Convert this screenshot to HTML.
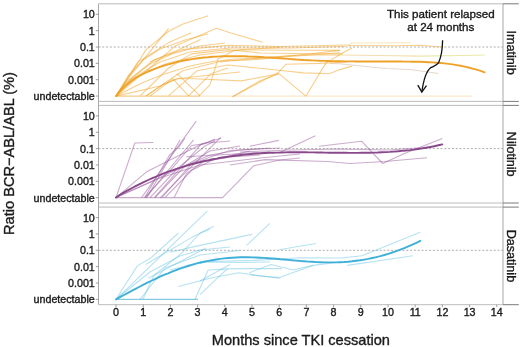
<!DOCTYPE html><html><head><meta charset="utf-8"><style>html,body{margin:0;padding:0;background:#fff;}svg{display:block;filter:blur(0.4px);}text{font-family:"Liberation Sans",sans-serif;fill:#1a1a1a;stroke:#1a1a1a;stroke-width:0.36px;}</style></head><body>
<svg width="520" height="347" viewBox="0 0 520 347">
<path d="M98.5,3.8 V304.7 M503.0,3.8 V304.7" fill="none" stroke="#a8a8a8" stroke-width="1"/>
<path d="M98.5,3.8 H503.0 M98.5,101.4 H503.0" fill="none" stroke="#b4b4b4" stroke-width="0.9"/>
<path d="M503.0,3.8 H518.8 M503.0,101.4 H518.8" fill="none" stroke="#7a7a7a" stroke-width="1"/>
<line x1="98.5" x2="503.0" y1="47.00" y2="47.00" stroke="#999" stroke-width="0.8" stroke-dasharray="2,1.8"/>
<line x1="95.8" x2="98.5" y1="14.30" y2="14.30" stroke="#888" stroke-width="0.8"/>
<text x="94.8" y="18.30" font-size="10.7" text-anchor="end">10</text>
<line x1="95.8" x2="98.5" y1="30.65" y2="30.65" stroke="#888" stroke-width="0.8"/>
<text x="94.8" y="34.65" font-size="10.7" text-anchor="end">1</text>
<line x1="95.8" x2="98.5" y1="47.00" y2="47.00" stroke="#888" stroke-width="0.8"/>
<text x="94.8" y="51.00" font-size="10.7" text-anchor="end">0.1</text>
<line x1="95.8" x2="98.5" y1="63.35" y2="63.35" stroke="#888" stroke-width="0.8"/>
<text x="94.8" y="67.35" font-size="10.7" text-anchor="end">0.01</text>
<line x1="95.8" x2="98.5" y1="79.70" y2="79.70" stroke="#888" stroke-width="0.8"/>
<text x="94.8" y="83.70" font-size="10.7" text-anchor="end">0.001</text>
<line x1="95.8" x2="98.5" y1="96.05" y2="96.05" stroke="#888" stroke-width="0.8"/>
<text x="94.8" y="100.05" font-size="10.7" text-anchor="end">undetectable</text>
<path d="M98.5,105.4 H503.0 M98.5,203.0 H503.0" fill="none" stroke="#b4b4b4" stroke-width="0.9"/>
<path d="M503.0,105.4 H518.8 M503.0,203.0 H518.8" fill="none" stroke="#7a7a7a" stroke-width="1"/>
<line x1="98.5" x2="503.0" y1="148.60" y2="148.60" stroke="#999" stroke-width="0.8" stroke-dasharray="2,1.8"/>
<line x1="95.8" x2="98.5" y1="115.90" y2="115.90" stroke="#888" stroke-width="0.8"/>
<text x="94.8" y="119.90" font-size="10.7" text-anchor="end">10</text>
<line x1="95.8" x2="98.5" y1="132.25" y2="132.25" stroke="#888" stroke-width="0.8"/>
<text x="94.8" y="136.25" font-size="10.7" text-anchor="end">1</text>
<line x1="95.8" x2="98.5" y1="148.60" y2="148.60" stroke="#888" stroke-width="0.8"/>
<text x="94.8" y="152.60" font-size="10.7" text-anchor="end">0.1</text>
<line x1="95.8" x2="98.5" y1="164.95" y2="164.95" stroke="#888" stroke-width="0.8"/>
<text x="94.8" y="168.95" font-size="10.7" text-anchor="end">0.01</text>
<line x1="95.8" x2="98.5" y1="181.30" y2="181.30" stroke="#888" stroke-width="0.8"/>
<text x="94.8" y="185.30" font-size="10.7" text-anchor="end">0.001</text>
<line x1="95.8" x2="98.5" y1="197.65" y2="197.65" stroke="#888" stroke-width="0.8"/>
<text x="94.8" y="201.65" font-size="10.7" text-anchor="end">undetectable</text>
<path d="M98.5,207.1 H503.0 M98.5,304.7 H503.0" fill="none" stroke="#b4b4b4" stroke-width="0.9"/>
<path d="M503.0,207.1 H518.8 M503.0,304.7 H518.8" fill="none" stroke="#7a7a7a" stroke-width="1"/>
<line x1="98.5" x2="503.0" y1="250.30" y2="250.30" stroke="#999" stroke-width="0.8" stroke-dasharray="2,1.8"/>
<line x1="95.8" x2="98.5" y1="217.60" y2="217.60" stroke="#888" stroke-width="0.8"/>
<text x="94.8" y="221.60" font-size="10.7" text-anchor="end">10</text>
<line x1="95.8" x2="98.5" y1="233.95" y2="233.95" stroke="#888" stroke-width="0.8"/>
<text x="94.8" y="237.95" font-size="10.7" text-anchor="end">1</text>
<line x1="95.8" x2="98.5" y1="250.30" y2="250.30" stroke="#888" stroke-width="0.8"/>
<text x="94.8" y="254.30" font-size="10.7" text-anchor="end">0.1</text>
<line x1="95.8" x2="98.5" y1="266.65" y2="266.65" stroke="#888" stroke-width="0.8"/>
<text x="94.8" y="270.65" font-size="10.7" text-anchor="end">0.01</text>
<line x1="95.8" x2="98.5" y1="283.00" y2="283.00" stroke="#888" stroke-width="0.8"/>
<text x="94.8" y="287.00" font-size="10.7" text-anchor="end">0.001</text>
<line x1="95.8" x2="98.5" y1="299.35" y2="299.35" stroke="#888" stroke-width="0.8"/>
<text x="94.8" y="303.35" font-size="10.7" text-anchor="end">undetectable</text>
<g fill="none" stroke="#f0a830" stroke-width="1.1" stroke-opacity="0.55" stroke-linejoin="round">
<polyline points="116.0,96.1 131.9,73.7 146.0,56.7 168.7,28.4"/>
<polyline points="116.0,96.1 134.7,68.0 146.0,49.6 168.7,31.3 183.0,24.0 208.2,15.7"/>
<polyline points="116.0,96.1 137.6,62.4 168.7,42.6 191.3,32.7"/>
<polyline points="150.0,62.0 178.0,50.0 200.6,39.6"/>
<polyline points="116.0,96.1 128.0,76.0 143.0,60.0 160.0,49.0 185.0,40.0 208.0,34.0"/>
<polyline points="116.0,96.1 133.0,77.0 150.0,64.0 172.0,54.0 200.0,46.0 225.0,43.0"/>
<polyline points="116.0,96.1 135.0,80.0 148.5,69.0 175.7,45.7 216.5,28.2 230.0,32.7 262.7,42.3"/>
<polyline points="116.0,96.1 126.3,82.1 154.5,59.5 182.8,49.6 228.0,45.4 280.0,46.5 348.0,45.0"/>
<polyline points="348.0,45.0 352.5,43.0 411.0,42.8" stroke="#f0d070" stroke-opacity="0.5"/>
<polyline points="348.0,45.5 396.0,45.8 420.0,45.3 441.5,47.0"/>
<polyline points="116.0,96.1 130.0,80.0 160.0,62.0 190.0,52.0 230.0,48.0 290.0,48.0 345.0,46.5"/>
<polyline points="116.0,96.1 135.0,78.0 165.0,64.0 200.0,55.0 240.0,50.0 300.0,50.2 340.0,50.4"/>
<polyline points="140.4,95.7 168.7,68.0 191.3,53.9 228.0,49.6 260.0,53.0 312.0,53.8 343.0,53.8"/>
<polyline points="146.1,95.7 182.8,70.8 228.0,59.5 260.0,58.0 300.0,55.0 340.0,55.0"/>
<polyline points="340.0,55.0 380.0,55.5 420.0,56.1" stroke="#e8c060" stroke-opacity="0.5"/>
<polyline points="420.0,56.1 463.0,55.5 484.6,55.0" stroke="#d8d870" stroke-opacity="0.6"/>
<polyline points="168.7,95.7 197.0,70.8 228.0,65.0 279.0,70.3 303.3,72.9 329.2,73.7 340.0,69.6 352.0,66.1"/>
<polyline points="330.0,63.5 340.0,63.8 370.8,67.0 386.0,68.5 410.0,69.5 438.5,73.5" stroke="#c8a890" stroke-opacity="0.45"/>
<polyline points="150.0,96.1 173.0,78.8 188.8,96.1"/>
<polyline points="177.0,73.7 199.8,95.7"/>
<polyline points="188.8,95.7 211.0,73.7 228.0,68.0"/>
<polyline points="198.9,96.1 210.0,84.6 218.0,59.0 235.0,50.0 280.0,47.5"/>
<polyline points="146.1,96.1 163.0,84.6 177.3,78.8 193.0,78.8 241.3,80.9 279.0,73.7 305.8,96.2 325.7,63.4 341.3,53.8 352.0,48.0"/>
<polyline points="232.6,96.7 260.0,80.7 279.0,73.7"/>
<polyline points="232.6,96.7 278.8,72.2 286.0,64.2 318.8,63.4 348.0,62.0"/>
<polyline points="116.0,96.1 160.0,86.0 177.3,78.8 210.0,75.0 240.0,72.0"/>
<polyline points="220.0,62.0 260.0,58.0 300.0,55.0 340.0,50.4"/>
<polyline points="116.0,96.1 141.8,83.1 163.0,74.5 190.0,66.0 215.0,61.0 250.0,60.0 290.0,56.5 340.0,52.7"/>
</g>
<polyline points="116.0,96.1 200.0,96.1" fill="none" stroke="#eea22a" stroke-width="1.3" stroke-opacity="0.55"/>
<polyline points="200.0,96.1 472.0,96.1" fill="none" stroke="#eea22a" stroke-width="1.3" stroke-opacity="0.25"/>
<polyline points="116.0,96.1 120.0,91.0 124.0,86.9 128.0,83.5 132.0,80.5 136.0,77.8 140.0,75.5 144.0,73.4 148.1,71.5 152.1,69.9 156.1,68.4 160.1,66.9 164.1,65.6 168.1,64.4 172.1,63.3 176.1,62.3 180.1,61.4 184.1,60.5 188.1,59.8 192.1,59.1 196.1,58.5 200.1,58.0 204.1,57.5 208.2,57.2 212.2,56.8 216.2,56.6 220.2,56.4 224.2,56.3 228.2,56.2 232.2,56.2 236.2,56.2 240.2,56.2 244.2,56.3 248.2,56.5 252.2,56.6 256.2,56.8 260.2,57.0 264.2,57.3 268.2,57.5 272.3,57.8 276.3,58.1 280.3,58.3 284.3,58.6 288.3,58.9 292.3,59.2 296.3,59.5 300.3,59.7 304.3,60.0 308.3,60.2 312.3,60.4 316.3,60.6 320.3,60.8 324.3,60.9 328.3,61.0 332.4,61.1 336.4,61.2 340.4,61.3 344.4,61.4 348.4,61.4 352.4,61.4 356.4,61.5 360.4,61.5 364.4,61.5 368.4,61.5 372.4,61.5 376.4,61.5 380.4,61.5 384.4,61.5 388.4,61.5 392.5,61.5 396.5,61.5 400.5,61.5 404.5,61.6 408.5,61.6 412.5,61.7 416.5,61.7 420.5,61.8 424.5,62.0 428.5,62.2 432.5,62.4 436.5,62.7 440.5,63.0 444.5,63.4 448.5,63.9 452.5,64.4 456.6,65.1 460.6,65.8 464.6,66.6 468.6,67.5 472.6,68.6 476.6,69.7 480.6,70.9 484.6,72.3" fill="none" stroke="#eea22a" stroke-width="1.9" stroke-linecap="round" stroke-linejoin="round"/>
<g fill="none" stroke="#9a5a9e" stroke-width="1.1" stroke-opacity="0.5" stroke-linejoin="round">
<polyline points="116.0,197.6 134.8,143.0 153.3,142.5"/>
<polyline points="141.6,197.6 196.2,121.1"/>
<polyline points="144.7,197.6 169.7,154.8 179.0,146.9 185.0,138.0"/>
<polyline points="160.3,197.6 221.0,137.1"/>
<polyline points="144.7,197.6 172.8,167.3 191.5,145.5 203.9,143.9 215.0,139.0"/>
<polyline points="154.5,197.6 201.0,144.4 220.7,138.3"/>
<polyline points="161.9,197.6 191.3,164.0 218.2,154.2 230.0,150.5 260.0,149.0 280.0,148.0"/>
<polyline points="174.1,197.6 186.4,173.8 203.5,161.6 230.0,157.0 260.0,155.0"/>
<polyline points="116.0,197.6 147.2,171.4 186.4,151.8 203.5,143.2 230.0,141.0"/>
<polyline points="186.4,156.7 230.0,154.2 270.0,152.0"/>
<polyline points="116.0,197.6 160.0,178.0 200.0,165.0 260.0,158.0 300.0,154.0"/>
<polyline points="222.6,197.6 253.8,165.7 280.0,160.0 300.0,158.0"/>
<polyline points="250.0,146.2 278.8,140.4"/>
<polyline points="280.8,152.0 315.4,135.8"/>
<polyline points="319.0,146.2 361.5,141.2 382.7,163.5 403.8,153.8 442.3,138.5"/>
<polyline points="230.0,165.0 265.4,159.6 327.0,161.5 350.0,163.5 384.6,161.5 427.0,157.7"/>
<polyline points="240.0,152.0 290.0,150.0 340.0,149.0 390.0,150.0 430.0,147.0"/>
<polyline points="147.0,197.6 180.0,140.0"/>
<polyline points="145.8,197.6 175.0,162.0 193.7,139.8"/>
<polyline points="150.0,197.6 178.0,168.0 205.0,146.0 215.0,141.0"/>
<polyline points="155.0,197.6 185.0,166.0 210.0,151.0 240.0,146.0"/>
<polyline points="165.0,197.6 192.0,170.0 215.0,159.0 250.0,151.0"/>
<polyline points="116.0,197.6 150.0,182.0 180.0,168.0 210.0,155.0 240.0,150.0 270.0,148.0"/>
</g>
<polyline points="116.0,197.6 222.6,197.6" fill="none" stroke="#88488a" stroke-width="1.3" stroke-opacity="0.45"/>
<polyline points="116.0,197.6 120.0,194.8 124.1,192.4 128.1,190.2 132.1,188.0 136.1,185.9 140.2,183.8 144.2,181.9 148.2,180.0 152.3,178.2 156.3,176.5 160.3,174.8 164.3,173.2 168.4,171.7 172.4,170.3 176.4,168.9 180.5,167.6 184.5,166.4 188.5,165.2 192.5,164.0 196.6,163.0 200.6,162.0 204.6,161.0 208.7,160.2 212.7,159.3 216.7,158.6 220.7,157.8 224.8,157.2 228.8,156.6 232.8,156.0 236.9,155.5 240.9,155.0 244.9,154.6 248.9,154.2 253.0,153.8 257.0,153.5 261.0,153.3 265.1,153.0 269.1,152.8 273.1,152.7 277.1,152.6 281.2,152.5 285.2,152.4 289.2,152.3 293.2,152.3 297.3,152.3 301.3,152.3 305.3,152.3 309.4,152.4 313.4,152.4 317.4,152.5 321.4,152.5 325.5,152.6 329.5,152.7 333.5,152.7 337.6,152.8 341.6,152.8 345.6,152.8 349.6,152.9 353.7,152.9 357.7,152.9 361.7,152.8 365.8,152.8 369.8,152.7 373.8,152.6 377.8,152.5 381.9,152.3 385.9,152.1 389.9,151.9 394.0,151.6 398.0,151.3 402.0,150.9 406.0,150.5 410.1,150.1 414.1,149.6 418.1,149.0 422.2,148.4 426.2,147.7 430.2,147.0 434.2,146.2 438.3,145.3 442.3,144.4" fill="none" stroke="#88488a" stroke-width="1.9" stroke-linecap="round" stroke-linejoin="round"/>
<g fill="none" stroke="#5ebfe0" stroke-width="1.1" stroke-opacity="0.45" stroke-linejoin="round">
<polyline points="116.0,299.3 207.3,211.1"/>
<polyline points="116.0,299.3 137.4,265.9 151.1,257.7 178.5,233.0"/>
<polyline points="142.9,299.3 153.8,275.5 181.2,253.6 200.0,233.0 213.7,226.2"/>
<polyline points="145.6,264.5 192.2,237.1 210.0,228.9"/>
<polyline points="148.4,278.2 205.9,248.1"/>
<polyline points="169.7,252.2 200.0,245.4 252.0,234.4"/>
<polyline points="195.0,299.3 208.2,270.0 232.9,268.6 282.0,268.6"/>
<polyline points="178.5,286.5 210.0,278.2 238.4,272.8 279.5,278.2"/>
<polyline points="200.0,294.7 227.4,268.6"/>
<polyline points="200.0,281.0 230.0,264.5"/>
<polyline points="246.6,245.4 269.9,223.4"/>
<polyline points="279.2,249.8 315.7,243.5"/>
<polyline points="200.0,261.8 254.8,260.4 300.0,257.7 340.0,258.0 362.0,255.7 420.3,232.3"/>
<polyline points="347.3,265.4 413.0,255.7"/>
<polyline points="249.3,272.8 271.2,264.5 293.2,270.0 313.0,265.4 340.0,262.0"/>
<polyline points="250.0,275.0 279.2,277.6 313.0,265.4"/>
<polyline points="116.0,299.3 150.0,272.0 180.0,256.0 200.0,250.0 230.0,247.0"/>
<polyline points="140.0,299.3 165.0,268.0 200.0,255.0 240.0,250.5"/>
<polyline points="170.0,270.0 200.0,262.0 240.0,262.5 270.0,262.0"/>
</g>
<polyline points="116.0,299.3 198.0,299.3" fill="none" stroke="#40b0d8" stroke-width="1.3" stroke-opacity="0.65"/>
<polyline points="116.0,299.3 120.0,297.2 124.0,295.0 128.0,292.8 132.0,290.7 136.0,288.6 140.0,286.5 144.0,284.4 148.0,282.4 152.0,280.5 156.0,278.6 160.0,276.7 164.0,274.9 168.1,273.3 172.1,271.6 176.1,270.1 180.1,268.6 184.1,267.3 188.1,266.0 192.1,264.8 196.1,263.7 200.1,262.7 204.1,261.8 208.1,260.9 212.1,260.2 216.1,259.5 220.1,258.9 224.1,258.4 228.1,258.0 232.1,257.7 236.1,257.5 240.1,257.3 244.1,257.3 248.1,257.3 252.1,257.4 256.1,257.5 260.1,257.7 264.1,257.9 268.1,258.2 272.2,258.5 276.2,258.8 280.2,259.2 284.2,259.5 288.2,259.9 292.2,260.3 296.2,260.6 300.2,261.0 304.2,261.3 308.2,261.6 312.2,261.8 316.2,262.1 320.2,262.2 324.2,262.4 328.2,262.4 332.2,262.4 336.2,262.4 340.2,262.2 344.2,262.0 348.2,261.7 352.2,261.3 356.2,260.8 360.2,260.3 364.2,259.6 368.2,258.9 372.3,258.0 376.3,257.1 380.3,256.1 384.3,255.0 388.3,253.8 392.3,252.5 396.3,251.2 400.3,249.7 404.3,248.1 408.3,246.4 412.3,244.7 416.3,242.8 420.3,240.8" fill="none" stroke="#40b0d8" stroke-width="1.9" stroke-linecap="round" stroke-linejoin="round"/>
<text transform="translate(507.4,52.60) rotate(90)" font-size="12.6" text-anchor="middle">Imatinib</text>
<text transform="translate(507.4,154.20) rotate(90)" font-size="12.6" text-anchor="middle">Nilotinib</text>
<text transform="translate(507.4,255.90) rotate(90)" font-size="12.6" text-anchor="middle">Dasatinib</text>
<line x1="116.00" x2="116.00" y1="304.7" y2="307.2" stroke="#888" stroke-width="0.8"/>
<text x="116.00" y="315.8" font-size="10.7" text-anchor="middle">0</text>
<line x1="143.20" x2="143.20" y1="304.7" y2="307.2" stroke="#888" stroke-width="0.8"/>
<text x="143.20" y="315.8" font-size="10.7" text-anchor="middle">1</text>
<line x1="170.40" x2="170.40" y1="304.7" y2="307.2" stroke="#888" stroke-width="0.8"/>
<text x="170.40" y="315.8" font-size="10.7" text-anchor="middle">2</text>
<line x1="197.60" x2="197.60" y1="304.7" y2="307.2" stroke="#888" stroke-width="0.8"/>
<text x="197.60" y="315.8" font-size="10.7" text-anchor="middle">3</text>
<line x1="224.80" x2="224.80" y1="304.7" y2="307.2" stroke="#888" stroke-width="0.8"/>
<text x="224.80" y="315.8" font-size="10.7" text-anchor="middle">4</text>
<line x1="252.00" x2="252.00" y1="304.7" y2="307.2" stroke="#888" stroke-width="0.8"/>
<text x="252.00" y="315.8" font-size="10.7" text-anchor="middle">5</text>
<line x1="279.20" x2="279.20" y1="304.7" y2="307.2" stroke="#888" stroke-width="0.8"/>
<text x="279.20" y="315.8" font-size="10.7" text-anchor="middle">6</text>
<line x1="306.40" x2="306.40" y1="304.7" y2="307.2" stroke="#888" stroke-width="0.8"/>
<text x="306.40" y="315.8" font-size="10.7" text-anchor="middle">7</text>
<line x1="333.60" x2="333.60" y1="304.7" y2="307.2" stroke="#888" stroke-width="0.8"/>
<text x="333.60" y="315.8" font-size="10.7" text-anchor="middle">8</text>
<line x1="360.80" x2="360.80" y1="304.7" y2="307.2" stroke="#888" stroke-width="0.8"/>
<text x="360.80" y="315.8" font-size="10.7" text-anchor="middle">9</text>
<line x1="388.00" x2="388.00" y1="304.7" y2="307.2" stroke="#888" stroke-width="0.8"/>
<text x="388.00" y="315.8" font-size="10.7" text-anchor="middle">10</text>
<line x1="415.20" x2="415.20" y1="304.7" y2="307.2" stroke="#888" stroke-width="0.8"/>
<text x="415.20" y="315.8" font-size="10.7" text-anchor="middle">11</text>
<line x1="442.40" x2="442.40" y1="304.7" y2="307.2" stroke="#888" stroke-width="0.8"/>
<text x="442.40" y="315.8" font-size="10.7" text-anchor="middle">12</text>
<line x1="469.60" x2="469.60" y1="304.7" y2="307.2" stroke="#888" stroke-width="0.8"/>
<text x="469.60" y="315.8" font-size="10.7" text-anchor="middle">13</text>
<line x1="496.80" x2="496.80" y1="304.7" y2="307.2" stroke="#888" stroke-width="0.8"/>
<text x="496.80" y="315.8" font-size="10.7" text-anchor="middle">14</text>
<text x="300.9" y="344.7" font-size="14.6" text-anchor="middle">Months since TKI cessation</text>
<text transform="translate(13.6,153.5) rotate(-90)" font-size="14.6" text-anchor="middle">Ratio BCR−ABL/ABL (%)</text>
<text x="440.8" y="18.1" font-size="11.62" text-anchor="middle">This patient relapsed</text>
<text x="440.8" y="30.9" font-size="11.62" text-anchor="middle">at 24 months</text>
<path d="M442.6,40.2 C442.5,48 441.5,56 438.6,62.7 C436.5,66 433,66.5 430.4,67.9 C426.5,71 423.5,80 421.8,92.1" fill="none" stroke="#111" stroke-width="1.3"/>
<path d="M417.8,85.2 L421.8,92.1 L426.5,85.6" fill="none" stroke="#111" stroke-width="1.3"/>
</svg></body></html>
